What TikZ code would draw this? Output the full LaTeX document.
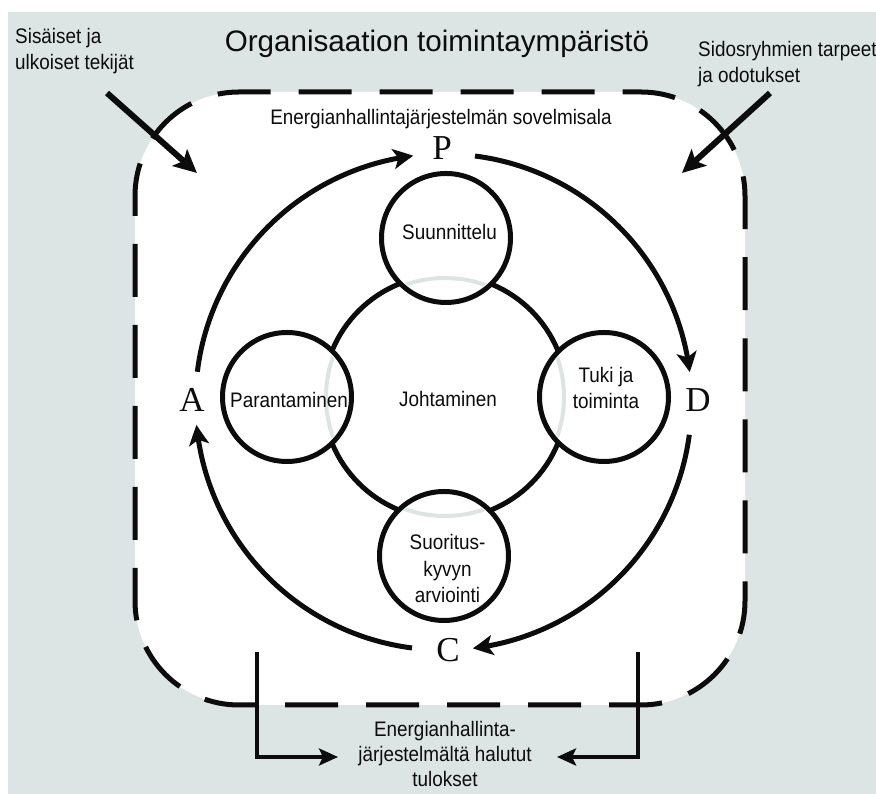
\documentclass[tikz,border=0pt]{standalone}
\usepackage{fontspec}
\setmainfont{Liberation Sans}
\newfontfamily\bodyfont{Liberation Sans}[FakeStretch=0.9]
\newfontfamily\pdcafont{Liberation Serif}
\usetikzlibrary{arrows.meta,bending}
\definecolor{bggrey}{RGB}{220,229,227}
\definecolor{ink}{RGB}{12,12,12}
\tikzset{
  body/.style={font={\bodyfont\fontsize{21}{26}\selectfont}, inner sep=0pt, text=ink},
  titlefont/.style={font={\fontsize{29.6}{34}\selectfont}, inner sep=0pt, text=ink},
  lbl/.style={font={\pdcafont\fontsize{35}{35}\selectfont}, inner sep=0pt, text=ink},
  ring/.style={circle, draw=ink, line width=5pt, inner sep=0pt},
  pdca/.style={draw=ink, line width=5pt, -{Stealth[length=20pt,width=20pt,inset=5pt,bend]}},
  bigarrow/.style={draw=ink, line width=6pt, -{Stealth[length=23pt,width=22pt,inset=5pt]}},
  botarrow/.style={draw=ink, line width=4.5pt, -{Stealth[length=19pt,width=17pt,inset=4pt]}},
  scopebox/.style={draw=ink, fill=white, line width=5pt, rounded corners=104pt,
    dash pattern=on 53pt off 28pt, dash phase=20pt}
}
\begin{document}
\begin{tikzpicture}[x=1pt,y=1pt]
\useasboundingbox (0,0) rectangle (876,794);
% background
\fill[bggrey] (8,0) rectangle (876,782);
% scope of the energy management system
\draw[scopebox] (135,89) rectangle (745,702);

% central circle and four surrounding circles
\node[ring, minimum size=244pt] (lead) at (445,397) {};
\node[ring, fill=white, minimum size=129pt] (plan) at (446,556) {};
\node[ring, fill=white, minimum size=129pt] (supp) at (604,397) {};
\node[ring, fill=white, minimum size=129pt] (perf) at (444,238) {};
\node[ring, fill=white, minimum size=129pt] (impr) at (287,397) {};
\begin{scope}
  \clip (plan.center) circle[radius=61pt] (supp.center) circle[radius=61pt]
        (perf.center) circle[radius=61pt] (impr.center) circle[radius=61pt];
  \draw[bggrey, line width=4pt] (lead.center) circle[radius=119pt];
\end{scope}

% texts
\node[titlefont, anchor=base] (title) at (437,742) {Organisaation toimintaympäristö};
\node[body, anchor=west, align=left] (inner) at (15,743) {Sisäiset ja\\ulkoiset tekijät};
\node[body, anchor=west, align=left] (needs) at (698,729.5) {Sidosryhmien tarpeet\\ja odotukset};
\node[body, anchor=base] (scopetext) at (441,669) {Energianhallintajärjestelmän sovelmisala};
\node[body, anchor=base] (plant) at (449.5,554) {Suunnittelu};
\node[body, anchor=base] (leadt) at (448,387) {Johtaminen};
\node[body, anchor=base] (imprt) at (289,386) {Parantaminen};
\node[body, align=center] (suppt) at (606,406) {Tuki ja\\toiminta};
\node[body, align=center, font={\bodyfont\fontsize{21}{26.5}\selectfont}] (perft) at (447.5,225) {Suoritus-\\kyvyn\\arviointi};
\node[body, align=center, font={\bodyfont\fontsize{21}{25}\selectfont}] (res) at (445,40) {Energianhallinta-\\järjestelmältä halutut\\tulokset};

% PDCA letters
\node[lbl] (P) at (442,646) {P};
\node[lbl] (D) at (698,394) {D};
\node[lbl] (C) at (448,144) {C};
\node[lbl] (A) at (192,394) {A};

% PDCA cycle
\coordinate (cyc) at (443.5,392);
\draw[pdca] ([shift={(173:248pt)}]cyc) arc[start angle=173, end angle=97, radius=248pt];
\draw[pdca] ([shift={(82.7:248pt)}]cyc) arc[start angle=82.7, end angle=6.9, radius=248pt];
\draw[pdca] ([shift={(-7.6:248pt)}]cyc) arc[start angle=-7.6, end angle=-83.2, radius=248pt];
\draw[pdca] ([shift={(-97.3:248pt)}]cyc) arc[start angle=-97.3, end angle=-174.7, radius=248pt];

% incoming arrows
\coordinate (inS) at (107,701); \coordinate (inE) at (197,621);
\coordinate (stS) at (770,701); \coordinate (stE) at (682,621);
\draw[bigarrow] (inS) -- (inE);
\draw[bigarrow] (stS) -- (stE);

% outgoing arrows
\coordinate (oLs) at (257,142); \coordinate (oLe) at (338,37);
\coordinate (oRs) at (638,142); \coordinate (oRe) at (557,37);
\draw[botarrow] (oLs) |- (oLe);
\draw[botarrow] (oRs) |- (oRe);
\end{tikzpicture}
\end{document}
